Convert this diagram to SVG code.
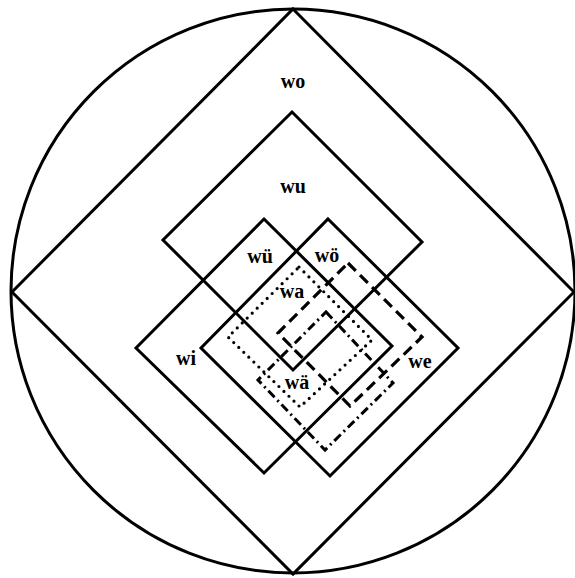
<svg xmlns="http://www.w3.org/2000/svg" width="575" height="578" viewBox="0 0 575 578">
<style>
.s{fill:none;stroke:#000;stroke-width:3;stroke-linejoin:miter}
.dot{fill:none;stroke:#000;stroke-width:3.2;stroke-linecap:round;stroke-dasharray:0 7}
.dash{fill:none;stroke:#000;stroke-width:3.2;stroke-dasharray:11 6}
.dd{fill:none;stroke:#000;stroke-width:3;stroke-dasharray:9 4 2 4}
text{font-family:"Liberation Serif","Times New Roman",serif;font-weight:bold;font-size:20px;text-anchor:middle;fill:#000}
</style>
<rect width="575" height="578" fill="#fff"/>
<g id="circle"><circle class="s" cx="293" cy="291" r="282"/></g>
<g id="wo"><polygon class="s" points="293,9 574,292 293,574 12,292"/><text x="293" y="88">wo</text></g>
<g id="wu"><polygon class="s" points="292,112 422,242 293,370 163,240"/><text x="293" y="193">wu</text></g>
<g id="wue"><polygon class="s" points="264,219 392,346 264,473 136,348"/><text x="260" y="263">wü</text></g>
<g id="woe"><polygon class="s" points="328,219 458,348 330,476 201,348"/><text x="327" y="262">wö</text></g>
<g id="wi"><text x="186" y="365">wi</text></g>
<g id="we"><text x="420" y="368">we</text></g>
<g id="wa"><polygon class="dot" points="299,267 372,340 300,407 228,337"/><text x="292" y="298">wa</text></g>
<g id="wae"><polygon class="dd" points="326,312 393,383 325,450 258,380"/><text x="297" y="389">wä</text></g>
<g id="dashed"><polygon class="dash" points="348,263 422,337 350,406 278,333"/></g>
<g id="connectors"></g>
</svg>
